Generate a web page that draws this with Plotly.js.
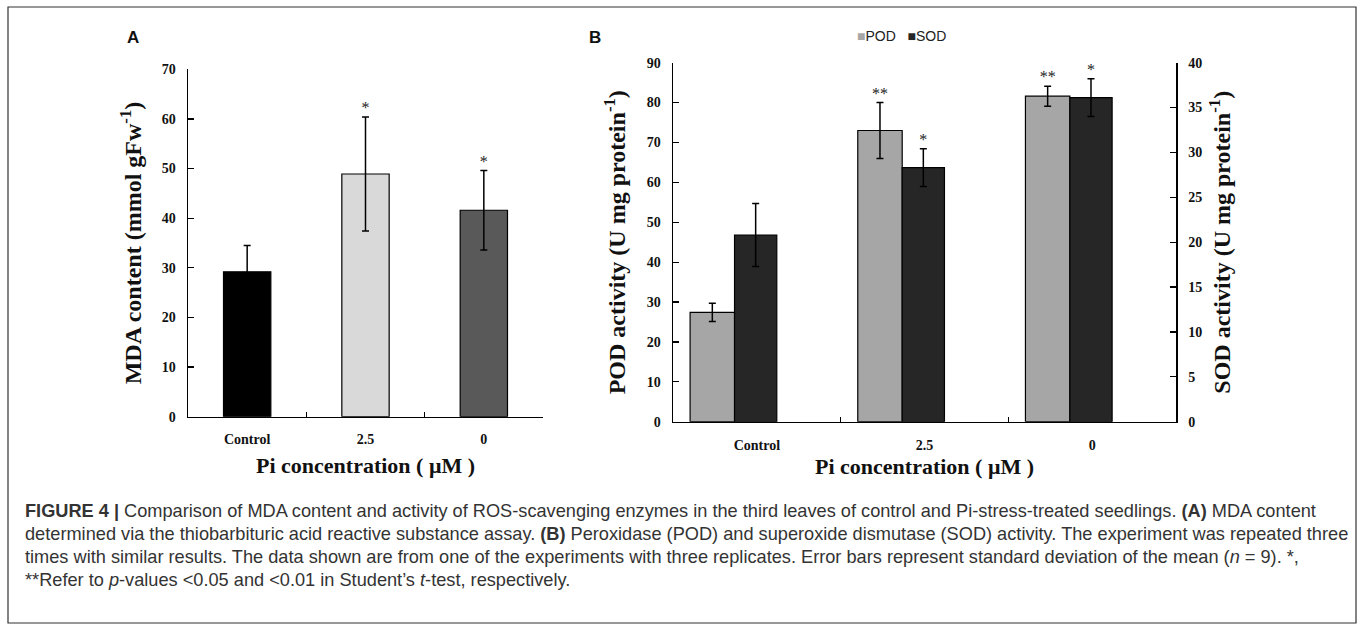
<!DOCTYPE html>
<html>
<head>
<meta charset="utf-8">
<script src="https://cdn.plot.ly/plotly-3.0.1.min.js"></script>
<style>html,body{margin:0;padding:0;background:#fff;}#chart{width:1360px;height:627px;}</style>
</head>
<body>
<div id="chart"></div>
<script>
// ---- data ----
const categories = ['Control', '2.5', '0'];
const mda = [29.2, 48.9, 41.6];
const mdaErr = [5.3, 11.5, 8.0];
const mdaSig = ['', '*', '*'];
const pod = [27.4, 73.0, 81.6];
const podErr = [2.3, 7.0, 2.5];
const podSig = ['', '**', '**'];
const sod = [20.8, 28.3, 36.1];
const sodErr = [3.5, 2.1, 2.1];
const sodSig = ['', '*', '*'];
const yTicksA = [0, 10, 20, 30, 40, 50, 60, 70];
const yTicksPOD = [0, 10, 20, 30, 40, 50, 60, 70, 80, 90];
const yTicksSOD = [0, 5, 10, 15, 20, 25, 30, 35, 40];

// ---- style ----
const W = 1360, H = 627;
const px = v => v / W;
const py = v => 1 - v / H;
const serif = 'Liberation Serif, Times New Roman, serif';
const sans = 'Liberation Sans, Arial, Helvetica, sans-serif';
const colorsA = ['#000000', '#d9d9d9', '#595959'];
const podColor = '#a6a6a6';
const sodColor = '#262626';
const podOffset = -0.398, podWidth = 0.265;
const sodOffset = -0.133, sodWidth = 0.252;

const catIdx = categories.map((c, i) => i);
const boundaries = categories.slice(1).map((c, i) => i + 0.5);

const errStyle = {type: 'data', visible: true, color: '#000', thickness: 1.5, width: 3.5};
const tickFont = {family: serif, size: 14, color: '#111', weight: 'bold'};
const titleFont = {family: serif, size: 22, color: '#111', weight: 'bold'};
const yTitleFont = {family: serif, size: 24, color: '#111', weight: 'bold'};
const starFont = {family: serif, size: 16, color: '#222'};

function starTrace(xs, tops, sig, xa, ya) {
  return {type: 'scatter', mode: 'text', x: xs, y: tops, text: sig, textposition: 'top center',
    textfont: starFont, xaxis: xa, yaxis: ya, showlegend: false, hoverinfo: 'skip', cliponaxis: false};
}

const traces = [
  {
    type: 'bar', x: catIdx, y: mda, xaxis: 'x', yaxis: 'y', width: 0.4,
    marker: {color: colorsA, line: {color: '#000', width: 1.2}},
    error_y: Object.assign({array: mdaErr}, errStyle),
    showlegend: false, hoverinfo: 'skip'
  },
  {
    type: 'bar', name: 'POD', x: catIdx, y: pod, xaxis: 'x2', yaxis: 'y3',
    offset: podOffset, width: podWidth,
    marker: {color: podColor, line: {color: '#000', width: 1.2}},
    error_y: Object.assign({array: podErr}, errStyle),
    showlegend: false, hoverinfo: 'skip'
  },
  {
    type: 'bar', name: 'SOD', x: catIdx, y: sod, xaxis: 'x2', yaxis: 'y4',
    offset: sodOffset, width: sodWidth,
    marker: {color: sodColor, line: {color: '#000', width: 1.2}},
    error_y: Object.assign({array: sodErr}, errStyle),
    showlegend: false, hoverinfo: 'skip'
  },
  starTrace(catIdx, mda.map((v, i) => v + mdaErr[i]), mdaSig, 'x', 'y'),
  starTrace(catIdx.map(i => i + podOffset + podWidth / 2), pod.map((v, i) => v + podErr[i]), podSig, 'x2', 'y3'),
  starTrace(catIdx.map(i => i + sodOffset + sodWidth / 2), sod.map((v, i) => v + sodErr[i]), sodSig, 'x2', 'y4')
];

const annotations = [];
function paperText(x, y, text, font, opts) {
  annotations.push(Object.assign({xref: 'paper', yref: 'paper', x: px(x), y: py(y), text: text,
    showarrow: false, font: font, xanchor: 'center', yanchor: 'middle'}, opts || {}));
}
// panel letters
paperText(133, 37, 'A', {family: sans, size: 17, color: '#111', weight: 'bold'});
paperText(595, 37, 'B', {family: sans, size: 17, color: '#111', weight: 'bold'});
// legend
paperText(855, 36, '<span style="color:' + podColor + '">■</span>POD   <span style="color:' + sodColor + '">■</span>SOD',
  {family: sans, size: 14, color: '#222'}, {xanchor: 'left'});
// caption
const capFont = {family: sans, size: 18.2, color: '#333'};
const caption = [
  '<b>FIGURE 4 |</b> Comparison of MDA content and activity of ROS-scavenging enzymes in the third leaves of control and Pi-stress-treated seedlings. <b>(A)</b> MDA content',
  'determined via the thiobarbituric acid reactive substance assay. <b>(B)</b> Peroxidase (POD) and superoxide dismutase (SOD) activity. The experiment was repeated three',
  'times with similar results. The data shown are from one of the experiments with three replicates. Error bars represent standard deviation of the mean (<i>n</i> = 9). *,',
  '**Refer to <i>p</i>-values &lt;0.05 and &lt;0.01 in Student’s <i>t</i>-test, respectively.'
];
const capY = [511, 534, 557, 580];
caption.forEach((t, i) => paperText(23, capY[i], t, capFont, {xanchor: 'left'}));

const baseX = {
  type: 'linear', range: [-0.5, 2.5], showline: true, linecolor: '#000', linewidth: 1.5,
  tickmode: 'array', tickvals: catIdx, ticktext: categories, ticks: '',
  minor: {tickmode: 'array', tickvals: boundaries, ticks: 'inside', ticklen: 5, tickwidth: 1.2,
    tickcolor: '#000', showgrid: false},
  showgrid: false, zeroline: false,
  tickfont: {family: serif, size: 14, color: '#111', weight: 'bold'},
  ticklabelstandoff: 9, fixedrange: true, automargin: false
};
const baseY = {
  showline: true, linecolor: '#000', linewidth: 1.5, ticks: 'inside', ticklen: 6,
  tickwidth: 1.2, tickcolor: '#000', showgrid: false, zeroline: false, tickfont: tickFont,
  tickmode: 'array', ticklabelstandoff: 8, fixedrange: true, automargin: false
};

const layout = {
  width: W, height: H, margin: {l: 0, r: 0, t: 0, b: 0},
  paper_bgcolor: '#fff', plot_bgcolor: 'rgba(0,0,0,0)', showlegend: false,
  barmode: 'overlay',
  xaxis: Object.assign({}, baseX, {domain: [px(188), px(543)], anchor: 'y',
    title: {text: 'Pi concentration ( μM )', font: titleFont, standoff: 11}}),
  yaxis: Object.assign({}, baseY, {domain: [py(416.7), py(69.3)], anchor: 'x', range: [0, 70],
    tickvals: yTicksA,
    title: {text: 'MDA content (mmol gFw<sup>-1</sup>)', font: yTitleFont, standoff: 13}}),
  xaxis2: Object.assign({}, baseX, {domain: [px(673), px(1176)], anchor: 'y3',
    ticklabelstandoff: 10,
    title: {text: 'Pi concentration ( μM )', font: titleFont, standoff: 6}}),
  yaxis3: Object.assign({}, baseY, {domain: [py(421.7), py(62.7)], anchor: 'x2', range: [0, 90],
    tickvals: yTicksPOD,
    title: {text: 'POD activity (U mg protein<sup>-1</sup>)', font: yTitleFont, standoff: 14}}),
  yaxis4: Object.assign({}, baseY, {domain: [py(421.7), py(62.7)], anchor: 'x2', range: [0, 40],
    overlaying: 'y3', side: 'right', tickvals: yTicksSOD,
    title: {text: 'SOD activity (U mg protein<sup>-1</sup>)', font: yTitleFont, standoff: 12}}),
  annotations: annotations,
  shapes: [{type: 'rect', xref: 'paper', yref: 'paper', x0: px(8), x1: px(1356), y0: py(623), y1: py(7),
    line: {color: '#333', width: 1.2}, fillcolor: 'rgba(0,0,0,0)'}]
};

Plotly.newPlot('chart', traces, layout, {staticPlot: true, displayModeBar: false});
</script>
</body>
</html>
